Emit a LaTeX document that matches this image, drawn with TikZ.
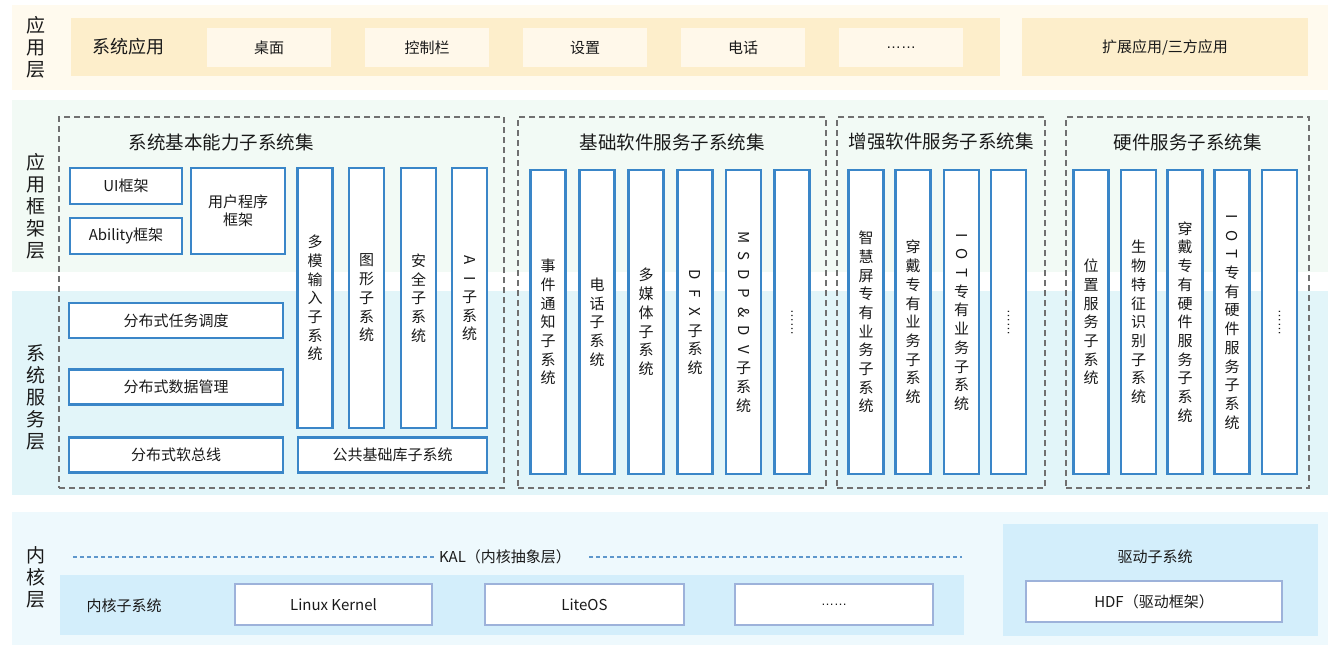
\documentclass[tikz,border=0pt]{standalone}
\usepackage{fontspec}
\usepackage{graphicx}
\setmainfont{Noto Sans CJK SC}
\newfontfamily\dotsfont{Liberation Sans}

\definecolor{appbg}{HTML}{FFFAEE}
\definecolor{appband}{HTML}{FDEECB}
\definecolor{appitem}{HTML}{FFF8EA}
\definecolor{fwbg}{HTML}{F2FAF5}
\definecolor{svcbg}{HTML}{E2F5F9}
\definecolor{kerbg}{HTML}{EEF9FD}
\definecolor{kerband}{HTML}{D3EEFB}
\definecolor{boxblue}{HTML}{3A86C8}
\definecolor{kerline}{HTML}{9DB2DA}
\definecolor{dashgray}{HTML}{707070}
\definecolor{kalblue}{HTML}{5E97CC}
\definecolor{ink}{HTML}{1A1A1A}

\newcommand{\rl}[1]{\rotatebox[origin=c]{-90}{#1}}
\newcommand{\moredots}{\rotatebox[origin=c]{-90}{\dotsfont\fontsize{13}{13}\selectfont ……}}

\begin{document}
\begin{tikzpicture}[x=1pt, y=-1pt, text=ink,
  lbl/.style={align=center, inner sep=0pt, font=\fontsize{19}{22}\selectfont},
  grouptitle/.style={inner sep=0pt, font=\fontsize{18.5}{22}\selectfont},
  plain/.style={inner sep=0pt, font=\fontsize{15}{18}\selectfont},
  appitem/.style={plain, fill=appitem, minimum width=124pt, minimum height=39pt},
  bbox/.style={plain, draw=boxblue, line width=2.2pt, fill=white, align=center},
  vbox/.style={bbox, minimum width=35pt, font=\fontsize{15}{18.7}\selectfont},
  group/.style={draw=dashgray, line width=1.5pt, dash pattern=on 6pt off 4pt, inner sep=0pt},
  kbox/.style={plain, draw=kerline, line width=2pt, fill=white, minimum height=41pt},
  kalline/.style={draw=kalblue, line width=2.2pt, dash pattern=on 4pt off 3pt}]

\useasboundingbox (0,0) rectangle (1335,648);
\fill[white] (0,0) rectangle (1335,648);

% layer backgrounds
\fill[appbg] (12,5) rectangle (1328,90);
\fill[fwbg] (12,100) rectangle (1328,272);
\fill[svcbg] (12,291) rectangle (1328,495);
\fill[kerbg] (12,512) rectangle (1328,645);

\node [lbl] (lblApp) at (36,47) {应\\用\\层};
\node [lbl] (lblFw) at (36,206) {应\\用\\框\\架\\层};
\node [lbl] (lblSvc) at (36,397) {系\\统\\服\\务\\层};
\node [lbl] (lblKer) at (36,577) {内\\核\\层};

% application layer
\fill[appband] (71,18) rectangle (1000,76);
\fill[appband] (1022,18) rectangle (1308,76);
\node [grouptitle, font=\fontsize{18}{22}\selectfont] (sysApp) at (128,47) {系统应用};
\node [appitem] (desk) at (269,47.5) {桌面};
\node [appitem] (ctrl) at (427,47.5) {控制栏};
\node [appitem] (setting) at (585,47.5) {设置};
\node [appitem] (phone) at (743,47.5) {电话};
\node [appitem] (appMore) at (901,47.5) {\dotsfont ……};
\node [plain] (extApp) at (1165,47) {扩展应用/三方应用};

% subsystem groups
\node [group, minimum width=445pt, minimum height=371pt] (gBase) at (281.5,302.5) {};
\node [group, minimum width=308pt, minimum height=371pt] (gSoft) at (672,302.5) {};
\node [group, minimum width=208pt, minimum height=371pt] (gPlus) at (941,302.5) {};
\node [group, minimum width=243pt, minimum height=371pt] (gHw) at (1187.5,302.5) {};
\node [grouptitle] (tBase) at (221,142) {系统基本能力子系统集};
\node [grouptitle] (tSoft) at (672,142) {基础软件服务子系统集};
\node [grouptitle] (tPlus) at (941,142) {增强软件服务子系统集};
\node [grouptitle] (tHw) at (1187.5,142) {硬件服务子系统集};

% basic capability subsystems
\node [bbox, minimum width=112pt, minimum height=36pt] (ui) at (126,186) {UI框架};
\node [bbox, minimum width=112pt, minimum height=36pt] (ability) at (126,236) {Ability框架};
\node [bbox, minimum width=94pt, minimum height=86pt] (userFw) at (238,211) {用户程序\\框架};
\node [vbox, minimum height=260pt] (input) at (315,298) {多\\模\\输\\入\\子\\系\\统};
\node [vbox, minimum height=260pt] (graphic) at (366.5,298) {图\\形\\子\\系\\统};
\node [vbox, minimum height=260pt] (security) at (418.5,298) {安\\全\\子\\系\\统};
\node [vbox, minimum height=260pt] (ai) at (469.5,298) {\rl{A}\\\rl{I}\\子\\系\\统};
\node [bbox, minimum width=214pt, minimum height=35pt] (dTask) at (176,320.5) {分布式任务调度};
\node [bbox, minimum width=214pt, minimum height=35pt] (dData) at (176,387) {分布式数据管理};
\node [bbox, minimum width=214pt, minimum height=35pt] (dBus) at (176,455) {分布式软总线};
\node [bbox, minimum width=189pt, minimum height=35pt] (commonLib) at (392.5,455) {公共基础库子系统};

% basic software services
\node [vbox, minimum height=304pt] (event) at (548,322) {事\\件\\通\\知\\子\\系\\统};
\node [vbox, minimum height=304pt] (tel) at (597,322) {电\\话\\子\\系\\统};
\node [vbox, minimum height=304pt] (media) at (646,322) {多\\媒\\体\\子\\系\\统};
\node [vbox, minimum height=304pt] (dfx) at (695,322) {\rl{D}\\\rl{F}\\\rl{X}\\子\\系\\统};
\node [vbox, minimum height=304pt] (msdp) at (743.5,322) {\rl{M}\\\rl{S}\\\rl{D}\\\rl{P}\\\rl{\&}\\\rl{D}\\\rl{V}\\子\\系\\统};
\node [vbox, minimum height=304pt] (softMore) at (792,322) {\moredots};

% enhanced software services
\node [vbox, minimum height=304pt] (smartScr) at (866,322) {智\\慧\\屏\\专\\有\\业\\务\\子\\系\\统};
\node [vbox, minimum height=304pt] (wear) at (913,322) {穿\\戴\\专\\有\\业\\务\\子\\系\\统};
\node [vbox, minimum height=304pt] (iot) at (961.5,322) {\rl{I}\\\rl{O}\\\rl{T}\\专\\有\\业\\务\\子\\系\\统};
\node [vbox, minimum height=304pt] (plusMore) at (1008.5,322) {\moredots};

% hardware services
\node [vbox, minimum height=304pt] (loc) at (1091,322) {位\\置\\服\\务\\子\\系\\统};
\node [vbox, minimum height=304pt] (bio) at (1138.5,322) {生\\物\\特\\征\\识\\别\\子\\系\\统};
\node [vbox, minimum height=304pt] (wearHw) at (1185,322) {穿\\戴\\专\\有\\硬\\件\\服\\务\\子\\系\\统};
\node [vbox, minimum height=304pt] (iotHw) at (1232,322) {\rl{I}\\\rl{O}\\\rl{T}\\专\\有\\硬\\件\\服\\务\\子\\系\\统};
\node [vbox, minimum height=304pt] (hwMore) at (1279.5,322) {\moredots};

% kernel layer
\node [plain] (kal) at (505,557) {KAL（内核抽象层）};
\coordinate (kalL) at (73,557);
\coordinate (kalR) at (962,557);
\draw [kalline] (kalL) -- ([xshift=-4pt]kal.west);
\draw [kalline] ([xshift=18pt]kal.east) -- (kalR);

\fill[kerband] (60,575) rectangle (964,635);
\fill[kerband] (1003,524) rectangle (1318,636);
\node [plain] (kerSub) at (124,606) {内核子系统};
\node [kbox, minimum width=197pt] (linux) at (333.5,604.5) {Linux Kernel};
\node [kbox, minimum width=199pt] (liteos) at (584.5,604.5) {LiteOS};
\node [kbox, minimum width=198pt] (kerMore) at (834,604.5) {\dotsfont\fontsize{13}{13}\selectfont ……};
\node [plain] (drvSub) at (1155,557) {驱动子系统};
\node [kbox, minimum width=256pt] (hdf) at (1154,601.5) {HDF（驱动框架）};
\end{tikzpicture}
\end{document}
